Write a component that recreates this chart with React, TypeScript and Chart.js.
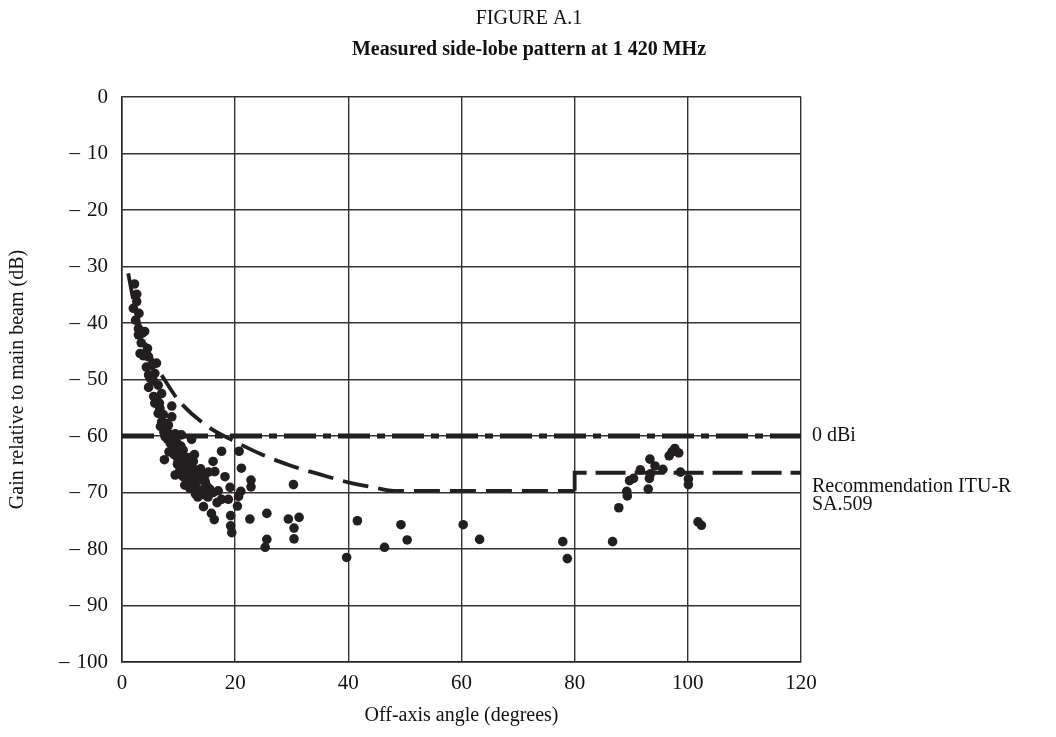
import React, { useEffect, useRef } from 'react';
import { Chart, registerables } from 'chart.js';

Chart.register(...registerables);

const FONT = '"Liberation Serif", "Times New Roman", Times, serif';
const INK = '#231f20';

// Measured side-lobe points: off-axis angle (deg) and gain relative to main beam (dB)
const pointAngles = [
  2.2, 2.6, 2.6, 2.0, 3.0, 2.9, 4.0, 2.9, 3.6, 3.2, 4.5, 4.7, 3.8, 6.1, 5.2, 4.7, 5.8, 4.7, 6.4, 5.5,
  7.0, 6.1, 5.8, 8.8, 6.7, 6.4, 7.3, 7.0, 8.2, 8.8, 9.4, 12.3, 7.6, 7.9, 10.5, 17.6, 20.7,
  8.5, 9.7, 10.8, 10.2, 9.2, 8.3, 7.5, 9.9, 11.0, 12.6, 11.8, 10.6, 9.4, 10.2, 12.9, 11.5, 12.5, 13.5,
  14.5, 13.9, 11.1, 12.9, 14.7, 12.0, 13.4, 11.5, 16.1, 16.4, 15.3, 18.2, 19.1, 22.8, 22.8, 21.0,
  20.6, 20.4, 17.6, 18.8, 16.1, 14.6, 13.4, 15.5, 17.0, 14.4, 15.8, 16.3, 19.2, 19.2, 19.4, 22.6,
  25.6, 25.6, 25.3, 21.1, 30.3, 29.4, 31.3, 30.4, 30.4, 39.7, 41.6, 46.4, 49.3, 50.4, 60.3, 63.2,
  77.9, 78.7, 86.7, 87.8, 89.3, 89.2, 89.7, 90.4, 91.6, 93.0, 93.2, 93.4, 93.3, 94.2, 95.6, 96.7,
  97.2, 97.7, 98.4, 98.7, 100.1, 100.1, 101.8, 102.4,
  8.0, 9.0, 10.0, 11.3, 12.2, 10.8, 13.0, 9.8, 11.7, 12.8, 14.2, 13.0, 15.2, 16.8, 6.8, 7.4, 8.6,
  2.4, 3.4, 4.3, 5.0, 5.6, 6.6, 7.8, 9.5, 10.4, 11.9, 14.0, 15.0,
];
const pointGains = [
  -33.1, -34.9, -36.2, -37.4, -38.3, -41, -41.5, -42.1, -41.8, -45.4, -44.5, -46, -45.8, -47.1, -47.5, -49.2, -48.9, -51.4, -51, -50.2,
  -52.5, -53.6, -54.2, -54.7, -55.1, -56, -56.2, -57.5, -58.1, -56.6, -59.6, -60.6, -60.1, -58.9, -59.8, -62.7, -62.7,
  -61.2, -61.3, -62.5, -62.5, -63.3, -62.8, -64.2, -64.2, -63.6, -64.5, -65.3, -65.5, -66.9, -66.2, -66, -67.2, -67.4, -66.8,
  -67.3, -65.8, -68.7, -68.7, -68.1, -69.3, -69.6, -68.2, -64.5, -66.3, -66.4, -67.2, -69.1, -67.8, -69, -69.8,
  -70.7, -72.4, -71.2, -71.2, -70, -70.4, -70.8, -69.4, -69.7, -72.5, -73.7, -74.8, -74.1, -75.9, -77.1, -74.7,
  -73.7, -78.3, -79.7, -65.7, -68.6, -74.7, -74.4, -76.3, -78.2, -81.5, -75, -79.7, -75.7, -78.4, -75.7, -78.3,
  -78.7, -81.7, -78.7, -72.7, -70.6, -69.8, -67.9, -67.5, -66, -69.4, -67.5, -66.7, -64.1, -65.3, -65.9, -63.5,
  -62.8, -62.2, -63, -66.4, -67.6, -68.6, -75.2, -75.8,
  -60.5, -62, -63, -64.3, -65.8, -67.2, -68.2, -65, -66.5, -63.3, -69.5, -70.3, -70.8, -71.8, -58.3, -59.3, -59.8,
  -39.5, -43.5, -47.8, -49.8, -53, -54.2, -57.8, -60.8, -61.8, -63.8, -67.8, -68.9,
];

// Recommendation ITU-R SA.509 reference envelope
const recCurveAngles = [1.1, 2, 3, 4, 5, 7.5, 10, 15, 20, 25, 30, 35, 40, 45, 48, 80];
const recCurveGains = [-31.2, -35.9, -40, -43.2, -45.8, -50, -53.7, -58.2, -61, -63.4, -65.3, -66.8, -68.2, -69.2, -69.7, -69.7];
const recStepAngles = [80, 80, 120];
const recStepGains = [-69.7, -66.5, -66.5];

// 0 dBi level
const zeroDbiAngles = [0, 120];
const zeroDbiGains = [-60, -60];

const xTickValues = [0, 20, 40, 60, 80, 100, 120];
const yTickValues = [0, -10, -20, -30, -40, -50, -60, -70, -80, -90, -100];

const titleText = 'FIGURE A.1';
const subtitleText = 'Measured side-lobe pattern at 1 420 MHz';
const xTitle = 'Off-axis angle (degrees)';
const yTitle = 'Gain relative to main beam (dB)';
const zeroLabel = '0 dBi';
const recLabel = ['Recommendation ITU-R', 'SA.509'];

const zip = (xs: number[], ys: number[]) => xs.map((x, i) => ({ x, y: ys[i] }));

export default function App() {
  const ref = useRef<HTMLCanvasElement | null>(null);

  useEffect(() => {
    document.body.style.margin = '0';
    const canvas = ref.current;
    if (!canvas) return;

    const textPlugin = {
      id: 'figText',
      afterDraw(chart: any) {
        const ctx = chart.ctx as CanvasRenderingContext2D;
        const area = chart.chartArea;
        const ys = chart.scales.y;
        ctx.save();
        ctx.fillStyle = '#111';
        ctx.textBaseline = 'middle';
        ctx.textAlign = 'center';
        ctx.font = `20px ${FONT}`;
        ctx.fillText(titleText, 529, 19);
        ctx.font = `bold 20px ${FONT}`;
        ctx.fillText(subtitleText, 529, 50);
        ctx.textAlign = 'left';
        ctx.font = `20px ${FONT}`;
        const lx = area.right + 11;
        ctx.fillText(zeroLabel, lx, ys.getPixelForValue(zeroDbiGains[0]));
        const ry = ys.getPixelForValue(recStepGains[recStepGains.length - 1]);
        ctx.fillText(recLabel[0], lx, ry + 14);
        ctx.fillText(recLabel[1], lx, ry + 32);
        ctx.restore();
      },
    };

    const chart = new Chart(canvas, {
      type: 'scatter',
      data: {
        datasets: [
          {
            label: 'Measured',
            data: zip(pointAngles, pointGains),
            pointRadius: 4.8,
            pointBackgroundColor: INK,
            pointBorderWidth: 0,
            showLine: false,
            order: 0,
          },
          {
            label: '0 dBi',
            data: zip(zeroDbiAngles, zeroDbiGains),
            showLine: true,
            borderColor: INK,
            borderWidth: 5,
            borderDash: [32, 7, 8, 7],
            pointRadius: 0,
            order: 1,
          },
          {
            label: 'SA.509 curve',
            data: zip(recCurveAngles, recCurveGains),
            showLine: true,
            borderColor: INK,
            borderWidth: 3.8,
            borderDash: [26, 10],
            cubicInterpolationMode: 'monotone',
            pointRadius: 0,
            order: 2,
          },
          {
            label: 'SA.509 step',
            data: zip(recStepAngles, recStepGains),
            showLine: true,
            borderColor: INK,
            borderWidth: 3.8,
            borderDash: [30, 9],
            tension: 0,
            pointRadius: 0,
            order: 3,
          },
        ],
      },
      options: {
        responsive: false,
        devicePixelRatio: 1,
        animation: false,
        layout: { padding: { left: 0, right: 255, top: 97, bottom: 0 } },
        plugins: {
          legend: { display: false },
          tooltip: { enabled: false },
          title: { display: false },
        },
        scales: {
          x: {
            type: 'linear',
            min: 0,
            max: 120,
            afterBuildTicks: (scale: any) => {
              scale.ticks = xTickValues.map((v) => ({ value: v }));
            },
            afterFit: (scale: any) => {
              scale.height = 75;
            },
            ticks: {
              color: '#111',
              font: { family: FONT, size: 21 },
              padding: 9,
              maxRotation: 0,
              callback: (v: any) => String(v),
            },
            grid: { color: '#333', lineWidth: 1.4, drawTicks: false },
            border: { display: true, color: '#222', width: 1.5 },
            title: {
              display: true,
              text: xTitle,
              color: '#111',
              font: { family: FONT, size: 20 },
              padding: { top: 0, bottom: 9 },
            },
          },
          y: {
            type: 'linear',
            min: -100,
            max: 0,
            afterBuildTicks: (scale: any) => {
              scale.ticks = yTickValues.map((v) => ({ value: v }));
            },
            afterFit: (scale: any) => {
              scale.width = 122;
            },
            ticks: {
              color: '#111',
              font: { family: FONT, size: 21 },
              padding: 14,
              callback: (v: any) => (Number(v) === 0 ? '0' : '\u2013\u2004' + Math.abs(Number(v))),
            },
            grid: { color: '#333', lineWidth: 1.4, drawTicks: false },
            border: { display: true, color: '#222', width: 1.5 },
            title: {
              display: true,
              text: yTitle,
              color: '#111',
              font: { family: FONT, size: 20 },
              padding: { top: 6, bottom: 0 },
            },
          },
        },
      },
      plugins: [textPlugin],
    } as any);

    return () => chart.destroy();
  }, []);

  return <canvas ref={ref} width={1056} height={737} style={{ display: 'block', width: 1056, height: 737 }} />;
}
